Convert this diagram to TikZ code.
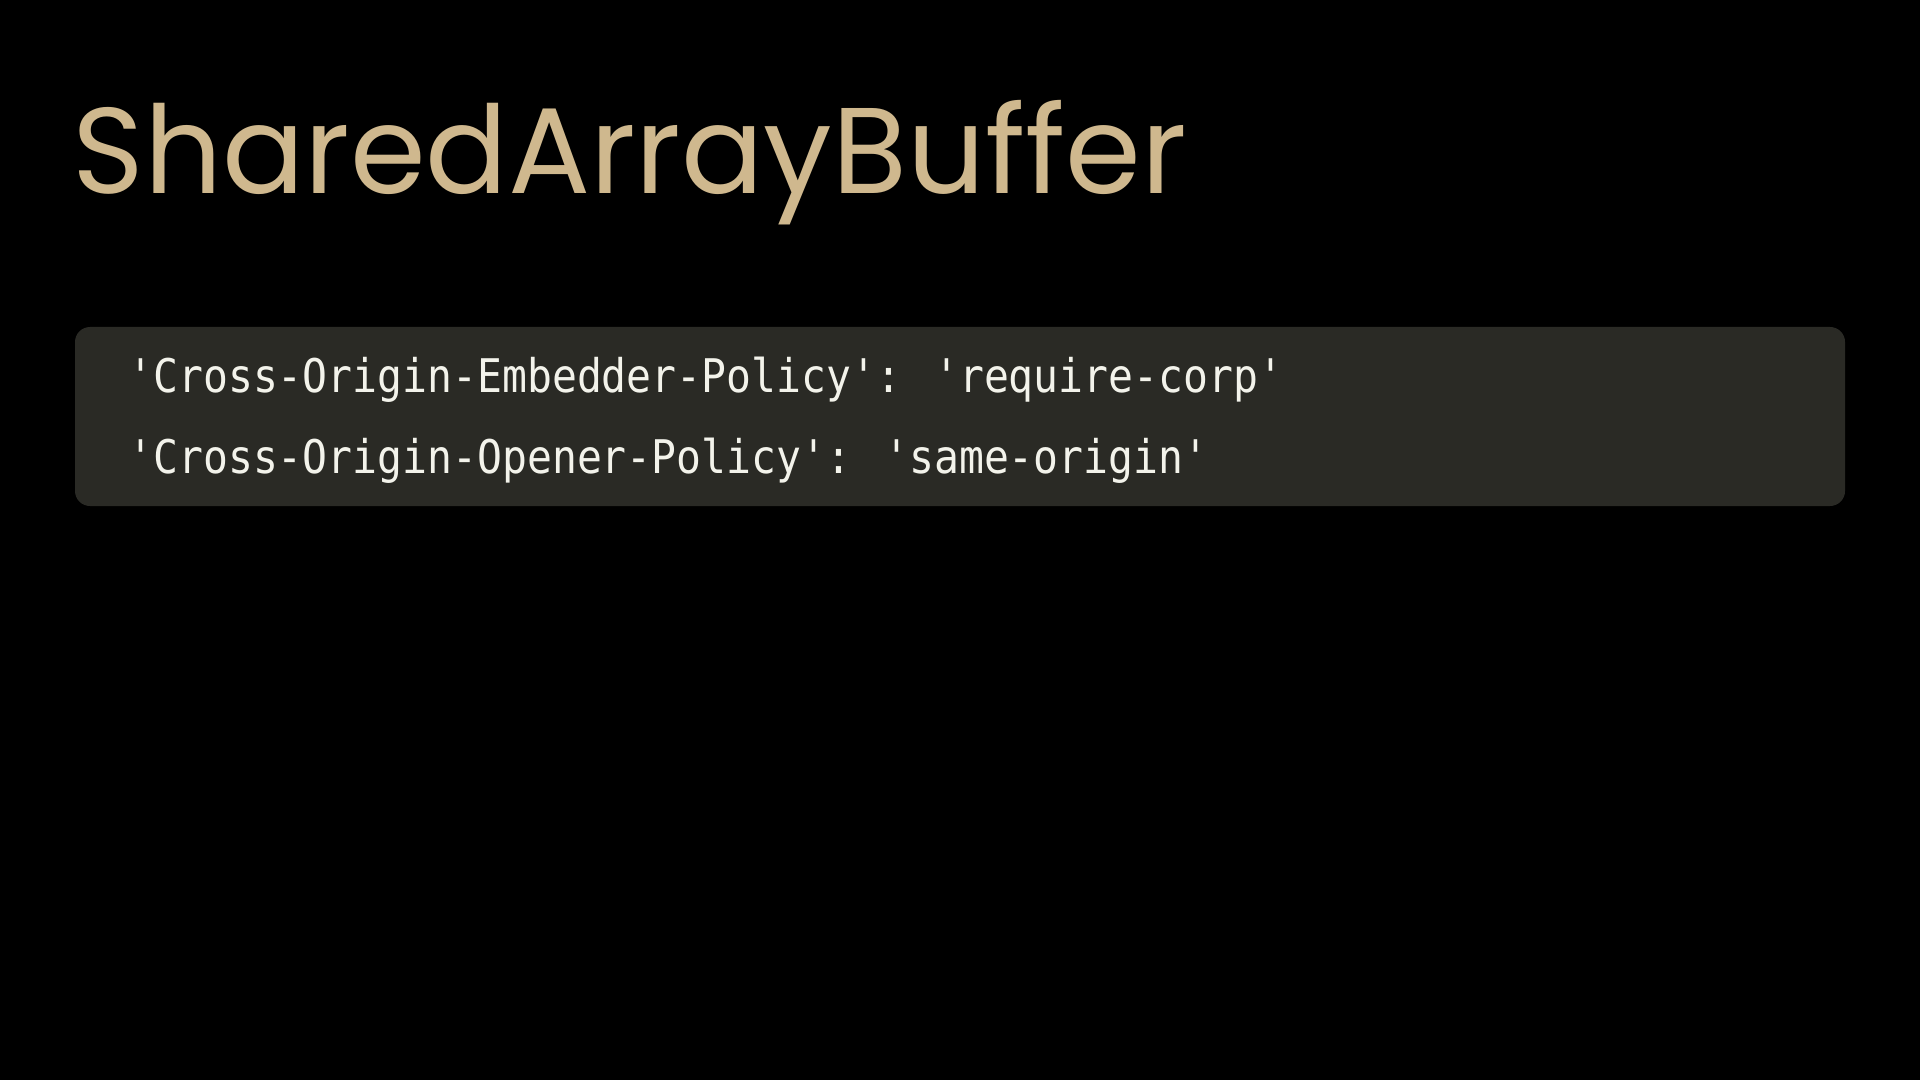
\documentclass[tikz,border=0pt]{standalone}
\usepackage{fontspec}
\newfontfamily\titlefont{Poppins}
\newfontfamily\codefont{DejaVu Sans Mono}
\definecolor{titlecol}{HTML}{CFB88E}
\definecolor{boxcol}{HTML}{2A2A25}
\definecolor{codecol}{HTML}{F3F3EB}
\tikzset{
  codeline/.style={anchor=base west, inner sep=0pt, text=codecol, font=\codefont\fontsize{20.7pt}{24pt}\selectfont},
  titletext/.style={anchor=base west, inner sep=0pt, text=titlecol, font=\titlefont\fontsize{61pt}{70pt}\selectfont},
  codebox/.style={fill=boxcol, draw=none, rounded corners=7.5pt}
}
\begin{document}
\begin{tikzpicture}[x=0.5pt,y=-0.5pt]
\useasboundingbox (0,0) rectangle (1920,1080);
\fill[black] (0,0) rectangle (1920,1080);
\node[titletext] (title) at (72,194) {SharedArrayBuffer};
\path[codebox] (75,327) rectangle (1845,506);
\node[codeline] (l1) at (128,393) {\scalebox{1}[1.12]{'Cross-Origin-Embedder-Policy': 'require-corp'}};
\node[codeline] (l2) at (128,473) {\scalebox{1}[1.12]{'Cross-Origin-Opener-Policy': 'same-origin'}};
\end{tikzpicture}
\end{document}
